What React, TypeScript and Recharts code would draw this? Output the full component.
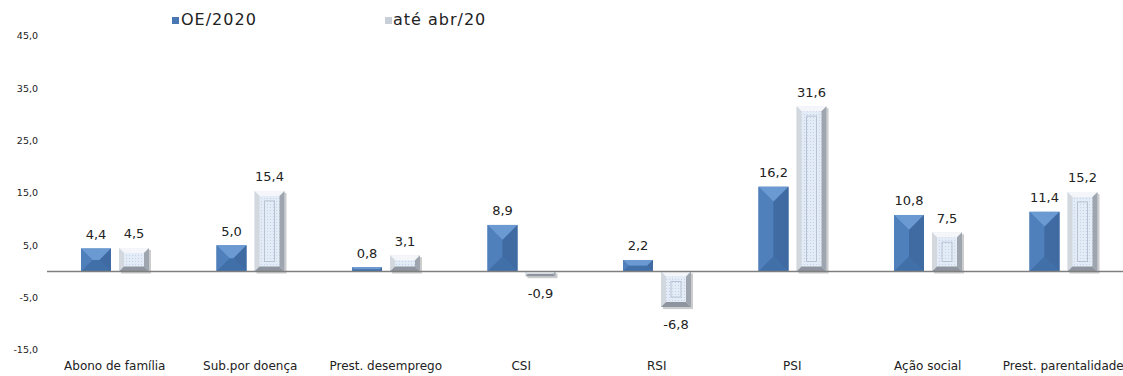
import React from "react";
import {
  BarChart,
  Bar,
  XAxis,
  YAxis,
  ReferenceLine,
  LabelList,
} from "recharts";

const categories = [
  "Abono de família",
  "Sub.por doença",
  "Prest. desemprego",
  "CSI",
  "RSI",
  "PSI",
  "Ação social",
  "Prest. parentalidade",
];
const oe2020 = [4.4, 5.0, 0.8, 8.9, 2.2, 16.2, 10.8, 11.4];
const ateAbr20 = [4.5, 15.4, 3.1, -0.9, -6.8, 31.6, 7.5, 15.2];
const yTicks = [-15, -5, 5, 15, 25, 35, 45];
const seriesNames = ["OE/2020", "até abr/20"];

const data = categories.map((name, i) => ({
  name,
  oe: oe2020[i],
  ate: ateAbr20[i],
}));

const FONT = "'DejaVu Sans', sans-serif";
const fmt = (v: number) => v.toFixed(1).replace(".", ",");

function box(props: any) {
  const { x, y, width, height } = props;
  const top = Math.min(y, y + height);
  const h = Math.abs(height);
  return { x, top, w: width, h };
}

// dark blue bar with a pyramid bevel
function OeShape(props: any) {
  const { x, top, w, h } = box(props);
  if (!w || !h) return null;
  const b = Math.min(15, w / 2, h / 2);
  const r = x + w;
  const bot = top + h;
  return (
    <g>
      <rect x={x} y={top} width={w} height={h} fill="#4877B2" />
      <polygon points={`${x},${top} ${r},${top} ${r - b},${top + b} ${x + b},${top + b}`} fill="#6B9AD3" />
      <polygon points={`${x},${top} ${x + b},${top + b} ${x + b},${bot - b} ${x},${bot}`} fill="#4F80BC" />
      <polygon points={`${r},${top} ${r - b},${top + b} ${r - b},${bot - b} ${r},${bot}`} fill="#3F6BA2" />
      <polygon points={`${x},${bot} ${r},${bot} ${r - b},${bot - b} ${x + b},${bot - b}`} fill="#416FA8" />
    </g>
  );
}

// light patterned bar with grey frame bevel
function AteShape(props: any) {
  const { x, top, w, h } = box(props);
  if (!w || !h) return null;
  const b = Math.min(5, w / 2, h / 2);
  const r = x + w;
  const bot = top + h;
  const ib = 10;
  return (
    <g>
      <rect x={x + 2} y={top + 2} width={w} height={h} fill="#9A9A9A" opacity={0.5} />
      <rect x={x} y={top} width={w} height={h} fill="url(#dots)" />
      <polygon points={`${x},${top} ${r},${top} ${r - b},${top + b} ${x + b},${top + b}`} fill="#F4F6F9" />
      <polygon points={`${x},${top} ${x + b},${top + b} ${x + b},${bot - b} ${x},${bot}`} fill="#D3D8DF" />
      <polygon points={`${r},${top} ${r - b},${top + b} ${r - b},${bot - b} ${r},${bot}`} fill="#9EA5AE" />
      <polygon points={`${x},${bot} ${r},${bot} ${r - b},${bot - b} ${x + b},${bot - b}`} fill="#8E959E" />
      {h > 2 * ib + 4 && (
        <rect
          x={x + ib}
          y={top + ib}
          width={w - 2 * ib}
          height={h - 2 * ib}
          fill="none"
          stroke="#B7C3D3"
          strokeWidth={1}
        />
      )}
    </g>
  );
}

function ValueLabel(props: any) {
  const { x, y, width, height, value } = props;
  const top = Math.min(y, y + height);
  const bot = Math.max(y, y + height);
  const cy = value >= 0 ? top - 14 : bot + 17;
  return (
    <text
      x={x + width / 2}
      y={cy}
      textAnchor="middle"
      dominantBaseline="central"
      fontSize={13}
      fontFamily={FONT}
      fill="#222"
    >
      {fmt(value)}
    </text>
  );
}

export default function App() {
  return (
    <div
      style={{
        position: "absolute",
        left: 0,
        top: 0,
        width: 1123,
        height: 376,
        overflow: "hidden",
        background: "#fff",
      }}
    >
      <div
        style={{
          position: "absolute",
          top: 10,
          left: 0,
          fontFamily: FONT,
          fontSize: 16,
          letterSpacing: 1,
          color: "#222",
          whiteSpace: "nowrap",
        }}
      >
        <span style={{ position: "absolute", left: 172, top: 7, width: 7, height: 7, background: "#4877B2" }} />
        <span style={{ position: "absolute", left: 181, top: 0 }}>{seriesNames[0]}</span>
        <span style={{ position: "absolute", left: 385, top: 7, width: 7, height: 7, background: "#C9CFD8" }} />
        <span style={{ position: "absolute", left: 393, top: 0 }}>{seriesNames[1]}</span>
      </div>
      <BarChart
        width={1140}
        height={376}
        data={data}
        margin={{ top: 36, right: 9, bottom: 0, left: 7 }}
        barSize={30}
        barGap={8}
      >
        <defs>
          <pattern id="dots" width="3" height="3" patternUnits="userSpaceOnUse">
            <rect width="3" height="3" fill="#E3EBF6" />
            <rect width="1" height="1" fill="#C4D3E8" />
          </pattern>
        </defs>
        <XAxis
          dataKey="name"
          axisLine={false}
          tickLine={false}
          tickSize={0}
          tickMargin={11}
          height={26}
          interval={0}
          tick={{ fontSize: 12, fontFamily: FONT, fill: "#222" }}
        />
        <YAxis
          domain={[-15, 45]}
          ticks={yTicks}
          axisLine={false}
          tickLine={false}
          tickSize={0}
          tickMargin={9}
          width={40}
          tickFormatter={fmt}
          tick={{ fontSize: 9.5, fontFamily: FONT, fill: "#222" }}
        />
        <ReferenceLine y={0} stroke="#7F7F7F" strokeWidth={1.5} />
        <Bar dataKey="oe" name={seriesNames[0]} shape={<OeShape />} isAnimationActive={false}>
          <LabelList dataKey="oe" content={<ValueLabel />} />
        </Bar>
        <Bar dataKey="ate" name={seriesNames[1]} shape={<AteShape />} isAnimationActive={false}>
          <LabelList dataKey="ate" content={<ValueLabel />} />
        </Bar>
      </BarChart>
    </div>
  );
}
